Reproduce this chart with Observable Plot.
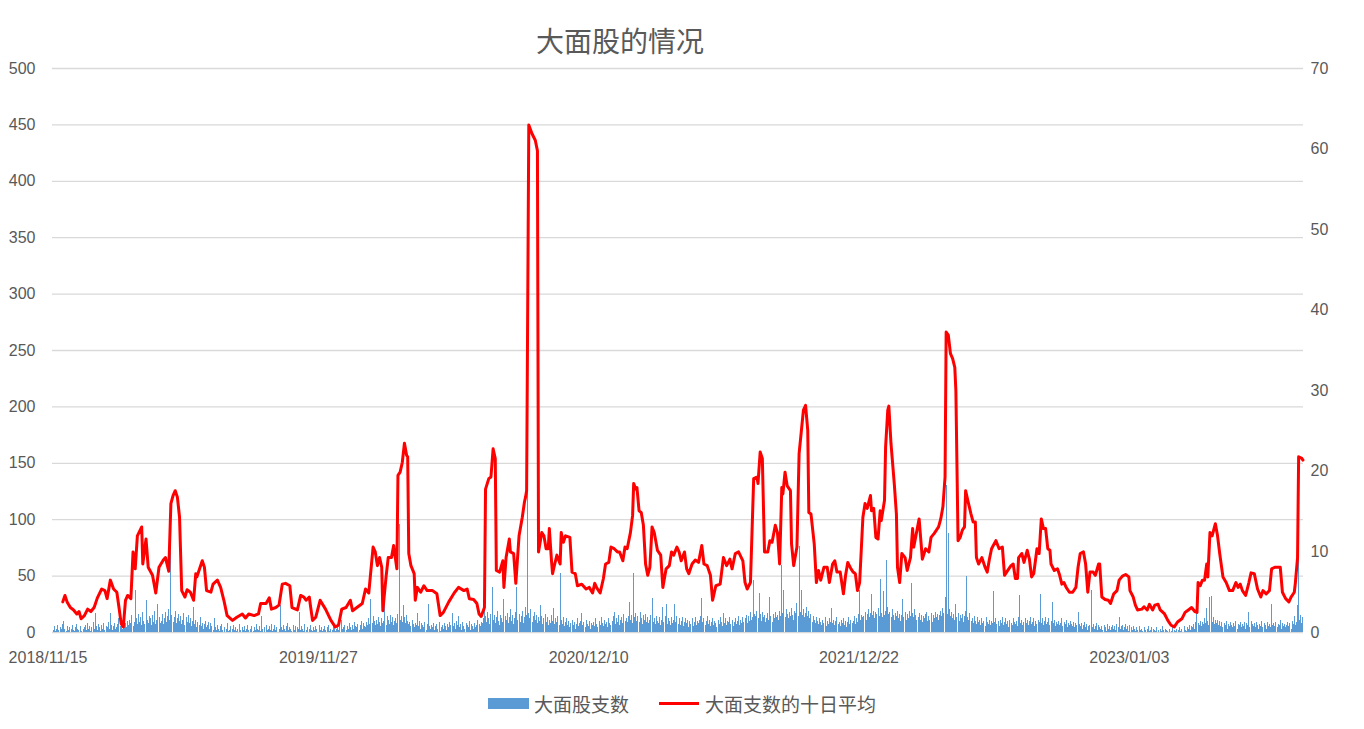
<!DOCTYPE html>
<html>
<head>
<meta charset="utf-8">
<script src="https://cdn.jsdelivr.net/npm/d3@7"></script>
<script src="https://cdn.jsdelivr.net/npm/@observablehq/plot@0.6"></script>
<style>
  body { margin: 0; background: #fff; width: 1364px; height: 729px; overflow: hidden;
         font-family: "Noto Sans CJK SC", "Liberation Sans", sans-serif; color: #595959; }
  #title { position: relative; height: 55px; }
  #title span { position: absolute; left: 0; width: 1240px; top: 20px; text-align: center;
                font-size: 28px; line-height: 40px; color: #595959; }
  #legend { height: 49px; display: flex; justify-content: center; align-items: center;
            font-size: 19px; color: #595959; padding-bottom: 2px; box-sizing: border-box; }
  .sw-bar { display: inline-block; width: 41px; height: 11px; background: #5b9bd5; margin-right: 5px; }
  .sw-line { display: inline-block; width: 40px; height: 3px; background: #ff0000; margin: 0 6px 0 30px; }
</style>
</head>
<body>
<div id="title"><span>大面股的情况</span></div>
<div id="chart"></div>
<div id="legend"><span class="sw-bar"></span><span>大面股支数</span><span class="sw-line"></span><span>大面支数的十日平均</span></div>
<script>
// ---- tick labels ----
const dateLabels = ["2018/11/15", "2019/11/27", "2020/12/10", "2021/12/22", "2023/01/03"];
const labelDays = [0, 250, 500, 750, 1000];          // trading-day index of each date label
const leftTicks = [0, 50, 100, 150, 200, 250, 300, 350, 400, 450, 500];
const rightTicks = [0, 10, 20, 30, 40, 50, 60, 70];

// ---- series 1: 大面股支数 (daily count, left axis), one value per trading day ----
const dailyCount = [
  // 0
  2,5,1,3,6,2,0,4,3,7, 10,3,1,5,2,4,0,3,6,2, 1,4,7,3,2,5,1,0,3,4, 6,2,8,3,5,1,4,9,3,17, 5,2,7,4,1,6,3,8,2,5,
  // 50
  4,9,3,17,6,2,5,8,3,4, 7,12,5,9,3,6,14,8,4,10, 6,11,8,15,5,9,37,12,7,16, 9,13,6,18,10,7,28,11,8,14, 12,6,15,9,19,7,11,25,13,8,
  // 100
  10,16,7,12,18,9,14,20,11,92, 15,9,13,19,8,12,16,10,14,7, 11,17,6,13,9,15,8,12,5,10, 22,7,11,4,9,6,13,5,8,3, 7,10,4,6,9,3,8,5,2,12,
  // 150
  4,2,6,3,1,5,7,2,0,4, 3,8,1,2,5,0,3,6,2,4, 1,3,7,2,0,4,2,5,1,3, 6,2,0,3,5,1,4,2,7,3, 2,5,1,14,3,0,4,6,2,3,
  // 200
  5,2,7,1,3,6,2,4,0,3, 24,4,2,6,3,1,5,8,2,4, 3,1,6,2,5,0,4,3,18,2, 5,3,1,7,2,4,0,3,6,2, 1,4,2,5,3,0,6,2,4,1,
  // 250
  3,5,2,0,4,6,1,3,2,5, 4,1,3,7,2,5,0,11,3,4, 6,2,5,3,8,4,2,6,3,9, 5,4,7,2,6,10,3,8,5,4, 9,6,12,7,29,8,14,10,6,11,
  // 300
  7,13,9,5,12,8,10,28,6,14, 11,7,15,9,13,6,10,12,8,16, 96,11,14,9,24,13,8,15,10,7, 9,5,11,7,4,8,6,17,5,10, 3,8,6,4,9,2,7,25,5,3,
  // 350
  6,4,8,2,5,7,3,9,1,4, 6,3,8,5,2,7,4,9,6,17, 5,8,3,10,6,14,4,7,2,9, 5,3,8,6,4,10,2,7,5,3, 8,4,6,11,7,5,9,8,12,40,
  // 400
  14,9,18,12,7,16,40,11,15,8, 13,19,10,6,15,12,9,29,14,11, 17,8,13,20,10,15,7,12,18,40, 11,16,9,14,19,8,13,22,15,185, 17,12,20,9,14,18,11,15,8,13,
  // 450
  10,24,14,7,12,16,9,13,6,11, 8,15,10,21,7,12,9,14,6,52, 11,7,13,5,9,12,6,10,4,8, 11,6,9,3,7,12,5,8,10,17, 6,9,4,11,7,5,10,3,8,6,
  // 500
  9,5,12,7,4,10,6,13,8,5, 11,7,9,4,12,8,6,10,14,18, 7,12,9,15,6,11,13,8,16,10, 12,9,14,27,11,15,8,52,13,17, 10,14,9,18,12,7,15,11,16,9,
  // 550
  13,8,11,15,30,9,12,7,14,10, 8,13,6,11,22,9,14,25,7,12, 10,6,13,8,11,25,9,14,7,12, 6,10,13,5,9,12,8,11,4,10, 7,12,5,9,13,6,10,8,11,14,
  // 600
  30,9,12,6,10,14,7,11,5,9, 12,6,10,8,4,11,7,13,9,5, 17,8,12,6,10,9,13,7,11,5, 9,12,7,10,14,6,11,8,13,9, 12,15,8,14,10,18,11,13,46,16,
  // 650
  14,19,12,35,16,10,18,13,15,9, 12,17,11,31,14,9,16,12,18,13, 15,11,19,14,59,17,37,13,20,16, 12,18,14,21,15,11,19,17,26,14, 76,18,37,15,20,13,17,22,14,19,
  // 700
  12,16,9,14,11,8,13,10,7,12, 9,6,11,8,13,5,10,7,12,9, 21,8,11,6,10,13,7,9,5,11, 8,12,6,10,4,9,13,7,11,8, 10,14,7,12,9,16,37,11,15,13,
  // 750
  14,18,11,16,20,13,17,34,15,19, 12,18,16,21,14,47,17,13,36,15, 19,64,22,16,18,13,20,15,11,17, 14,19,12,16,10,15,29,13,18,11, 16,12,19,14,43,17,13,20,15,11,
  // 800
  13,17,11,15,9,14,12,16,18,10, 14,11,17,9,15,12,18,13,16,11, 15,19,14,21,17,31,130,16,88,20, 14,18,12,16,11,25,13,17,10,15, 12,16,9,14,19,50,13,11,17,10,
  // 850
  12,8,14,10,7,13,9,11,6,12, 8,10,5,13,9,7,11,6,10,8, 36,9,12,7,10,5,11,8,13,6, 9,12,7,10,4,11,8,6,12,9, 7,10,5,13,33,8,11,6,9,12,
  // 900
  8,11,6,10,13,7,9,12,5,10, 7,11,9,34,8,12,6,10,13,7, 9,12,6,10,27,8,11,5,9,7, 10,6,8,12,5,9,7,11,4,8, 6,10,7,5,9,4,8,6,18,7,
  // 950
  5,8,3,6,9,4,7,2,5,6, 37,4,7,3,5,8,2,6,4,3, 5,2,6,4,1,7,3,5,2,4, 6,3,5,2,7,4,13,3,5,6, 2,4,7,3,5,1,6,4,2,5,
  // 1000
  3,1,4,2,0,5,2,3,1,4, 2,0,3,5,1,2,4,0,3,2, 1,4,2,0,3,1,5,2,0,3, 2,1,0,3,1,4,0,2,1,3, 0,2,4,1,3,0,5,2,1,4,
  // 1050
  3,6,2,5,4,7,3,9,17,8, 6,10,5,9,7,12,8,21,10,6, 31,32,9,13,7,11,8,11,6,10, 5,9,4,8,6,10,3,7,5,9, 6,4,8,5,10,3,7,6,9,4,
  // 1100
  7,5,9,3,8,6,18,4,10,7, 5,8,4,9,6,3,7,5,10,4, 8,6,3,9,5,7,4,25,6,8, 5,9,4,7,6,11,3,8,5,7, 4,6,9,5,8,3,10,7,14,6,
  // 1150
  9,24,70,11,15,8,13
];

// ---- series 2: 大面支数的十日平均 (right axis), [trading-day index, value] ----
const tenDayAvg = [
  [9,3.8],[11,4.6],[13,3.8],[16,3.1],[19,2.8],[22,2.3],[24,2.6],[26,1.7],[29,2.1],[32,2.9],
  [35,2.6],[38,3.1],[41,4.3],[45,5.4],[48,5.2],[50,4.2],[53,6.5],[56,5.4],[59,5.0],[61,3.1],
  [63,1.1],[65,0.7],[67,4.0],[69,4.6],[72,4.2],[74,10.0],[76,7.9],[78,12.0],[82,13.1],[83,8.5],
  [86,11.6],[88,8.1],[92,7.1],[95,4.9],[98,8.1],[102,9.0],[104,9.3],[107,7.6],[109,16.0],[111,17.0],
  [113,17.6],[115,16.8],[117,14.3],[119,5.2],[122,4.4],[124,5.3],[127,5.0],[130,4.0],[132,7.3],[133,6.9],
  [136,8.1],[138,8.9],[140,8.1],[142,5.2],[146,5.0],[148,6.0],[152,6.5],[155,5.6],[158,4.0],[161,2.1],
  [166,1.5],[170,1.9],[175,2.3],[178,1.8],[181,2.3],[186,2.1],[190,2.3],[192,3.6],
  [197,3.6],[200,4.3],[202,2.9],[206,3.1],[209,3.4],[212,6.0],[215,6.1],[219,5.8],[221,3.1],[226,2.8],
  [229,4.6],[232,4.4],[234,4.0],[237,4.4],[238,3.4],[240,1.5],[243,1.9],[247,4.0],[252,2.9],[257,1.5],
  [261,0.7],[264,0.9],[267,2.9],[271,3.1],[275,4.0],[277,2.7],[281,3.1],[286,3.6],[289,5.4],[292,4.9],
  [296,10.6],[298,10.0],[300,8.3],[302,9.3],[304,8.1],[305,2.7],[308,6.9],[310,9.3],[313,9.3],[315,10.8],
  [318,7.9],[319,19.5],[321,19.9],[323,21.1],[325,23.5],[327,22.0],[328,21.8],[329,9.8],[331,8.3],[334,7.3],
  [335,4.0],[337,5.6],[340,5.0],[343,5.8],[346,5.2],[351,5.2],[355,4.8],[358,2.1],[361,2.5],[366,3.8],
  [371,4.9],[375,5.6],
  [380,5.2],[383,5.4],[385,4.2],[389,4.1],[392,3.6],[394,2.3],[396,2.0],[399,3.1],[400,17.8],[403,19.1],
  [405,19.3],[407,22.8],[409,21.6],[410,7.7],[413,7.5],[416,8.9],[417,5.6],[419,9.3],[422,11.6],[423,10.0],
  [426,9.8],[428,6.1],[431,12.0],[434,14.3],[436,16.2],[437,16.8],[438,17.6],[440,63.0],[443,61.9],[446,61.1],
  [448,59.8],[449,10.0],[452,12.4],[454,12.0],[456,10.4],[458,10.4],[459,12.9],[461,8.9],[462,7.3],[464,8.5],
  [466,9.6],[469,8.5],[470,12.4],[472,11.2],[474,12.0],[478,11.8],[480,7.5],[483,7.3],[485,5.8],[489,6.0],
  [493,5.4],[496,5.6],[499,4.9],[501,6.1],[503,5.5],[506,4.9],[509,6.7],[511,8.5],[514,8.7],[516,10.6],
  [519,10.4],[522,10.0],[524,10.0],[527,8.9],[529,10.6],[531,10.4],[534,12.4],[536,14.5],[537,18.5],[539,17.8],
  [540,18.0],[542,15.1],[544,14.9],[546,13.3],[548,8.5],[550,7.1],[552,8.1],[554,13.1],[556,12.4],[559,10.2],
  [562,9.6],[564,5.6],[567,7.9],[570,8.3],[572,10.0],[574,9.6],[577,10.6],[579,10.0],
  [581,8.9],[584,10.0],[586,7.9],[588,7.3],[591,8.5],[594,9.0],[597,8.7],[600,10.8],[602,8.5],[605,8.3],
  [608,7.1],[610,4.0],[613,5.8],[617,6.0],[620,9.3],[623,8.3],[626,9.1],[628,7.9],[631,9.8],[634,10.0],
  [638,8.9],[640,6.2],[642,5.4],[645,6.2],[648,19.1],[651,19.3],[652,18.5],[654,22.4],[656,21.6],[658,10.0],
  [661,10.0],[663,11.4],[665,11.2],[668,13.3],[670,12.4],[672,8.5],[674,18.0],[675,17.2],[677,19.9],[679,18.2],
  [682,17.6],[683,11.0],[685,8.3],[688,10.6],[690,22.2],[692,24.9],[694,27.6],[696,28.2],[698,25.1],[699,14.9],
  [701,14.7],[704,11.0],[706,6.2],[708,7.7],[710,6.5],[713,8.1],[716,8.1],[718,6.2],[721,8.5],[723,8.9],
  [725,7.5],[728,7.5],[731,4.8],[733,7.1],[735,8.7],[738,7.9],[740,7.5],[742,7.3],[744,5.2],[746,6.2],
  [749,14.3],[751,16.0],[753,15.4],[756,17.0],[757,15.1],[759,15.4],[761,11.8],[763,11.6],[765,15.1],[766,13.9],
  [769,16.4],[770,23.0],[772,27.6],[773,28.1],[775,23.4],[776,21.8],[778,18.5],[780,14.7],[781,8.1],[783,6.2],
  [785,9.8],[788,9.3],[790,7.7],[793,9.3],[795,12.9],[796,10.6],[799,12.7],[801,14.1],[804,9.1],[807,10.4],
  [810,10.0],[812,11.8],[815,12.3],[817,12.7],[819,13.1],[821,14.1],[823,15.6],[825,19.3],[826,37.3],[828,36.9],
  [830,34.6],[832,34.0],[834,32.9],[835,30.0],[837,11.4],[839,11.8],[841,12.7],[843,13.1],[844,17.6],[846,16.4],
  [849,14.7],[851,13.7],[853,13.7],[854,9.3],[856,8.5],[859,9.3],[862,8.1],[864,7.5],[866,9.1],[868,10.4],
  [872,11.4],[875,10.4],[878,10.6],[880,7.1],[883,7.7],[886,8.3],[888,8.5],[890,6.7],[892,6.7],[893,9.3],
  [896,9.8],[898,8.7],[901,10.2],[903,9.1],[905,6.9],[907,7.3],[910,10.4],[912,9.8],[914,14.1],[916,12.9],
  [918,12.9],[920,10.4],[922,10.2],[923,8.5],[926,7.7],[929,7.9],[931,7.1],[933,6.0],[935,6.2],[937,5.6],
  [940,5.0],[943,5.0],[946,5.6],[948,8.1],[950,9.8],
  [953,10.0],[955,8.5],[957,5.0],[959,7.5],[962,7.5],[964,7.1],[967,8.5],[968,8.5],[970,4.4],[973,4.1],
  [976,4.0],[978,3.6],[981,4.8],[984,5.2],[986,6.5],[989,7.0],[992,7.2],[995,6.9],[996,5.2],[999,4.4],
  [1001,3.4],[1003,2.8],[1007,2.9],[1009,3.2],[1012,2.8],[1014,3.5],[1017,2.8],[1019,3.4],[1022,3.5],[1024,2.8],
  [1028,2.3],[1031,1.5],[1034,0.9],[1037,0.7],[1040,1.3],[1044,1.7],[1047,2.5],[1050,2.8],[1053,3.1],[1056,2.6],
  [1058,2.5],[1059,6.2],[1061,5.8],[1063,6.5],[1065,6.5],[1067,8.5],[1068,6.9],[1070,12.4],[1072,12.0],[1075,13.5],
  [1077,12.0],[1079,9.8],[1082,6.9],[1085,6.2],[1088,5.2],[1091,5.2],[1094,6.2],[1096,5.6],[1098,6.0],[1100,5.2],
  [1103,4.6],[1106,6.2],[1108,7.4],[1111,7.3],[1114,5.4],[1117,4.4],[1119,5.2],[1122,4.8],[1125,5.2],[1127,7.9],
  [1130,8.1],[1132,8.1],[1135,8.1],[1137,5.0],[1140,4.2],[1143,3.8],[1145,4.4],[1148,5.0],[1149,6.2],[1151,9.3],
  [1152,21.8],[1155,21.6],[1156,21.4]
];

// ---- build chart ----
const rightToLeft = 500 / 70;   // right axis (0–70) drawn on the left scale (0–500)
const bars = dailyCount.map((count, day) => ({day, count}));
const avg = tenDayAvg.map(([day, value]) => ({day, value}));

const chart = Plot.plot({
  width: 1364,
  height: 625,
  marginTop: 13,
  marginBottom: 48,
  marginLeft: 52,
  marginRight: 61,
  style: {
    fontSize: "16px",
    fontFamily: "'Liberation Sans', 'Noto Sans CJK SC', sans-serif",
    color: "#595959",
    background: "#ffffff",
    overflow: "visible"
  },
  x: {type: "linear", domain: [-0.5, dailyCount.length - 0.5]},
  y: {domain: [0, 500]},
  marks: [
    Plot.gridY(leftTicks, {stroke: "#d9d9d9", strokeOpacity: 1, strokeWidth: 1.3}),
    Plot.ruleX(bars, {x: "day", y1: 0, y2: "count", stroke: "#5b9bd5", strokeWidth: 1, shapeRendering: "crispEdges"}),
    Plot.lineY(avg, {x: "day", y: d => d.value * rightToLeft, stroke: "#ff0000", strokeWidth: 3, strokeLinejoin: "round", strokeLinecap: "round"}),
    Plot.axisY(leftTicks, {anchor: "left", tickSize: 0, tickPadding: 17, label: null}),
    Plot.axisY(rightTicks.map(v => v * rightToLeft), {anchor: "right", tickSize: 0, tickPadding: 7, label: null,
      tickFormat: d => String(Math.round(d / rightToLeft))}),
    Plot.axisX(labelDays, {anchor: "bottom", tickSize: 0, tickPadding: 19, label: null, dx: -5,
      tickFormat: d => dateLabels[labelDays.indexOf(d)]})
  ]
});
document.getElementById("chart").appendChild(chart);
</script>
</body>
</html>
